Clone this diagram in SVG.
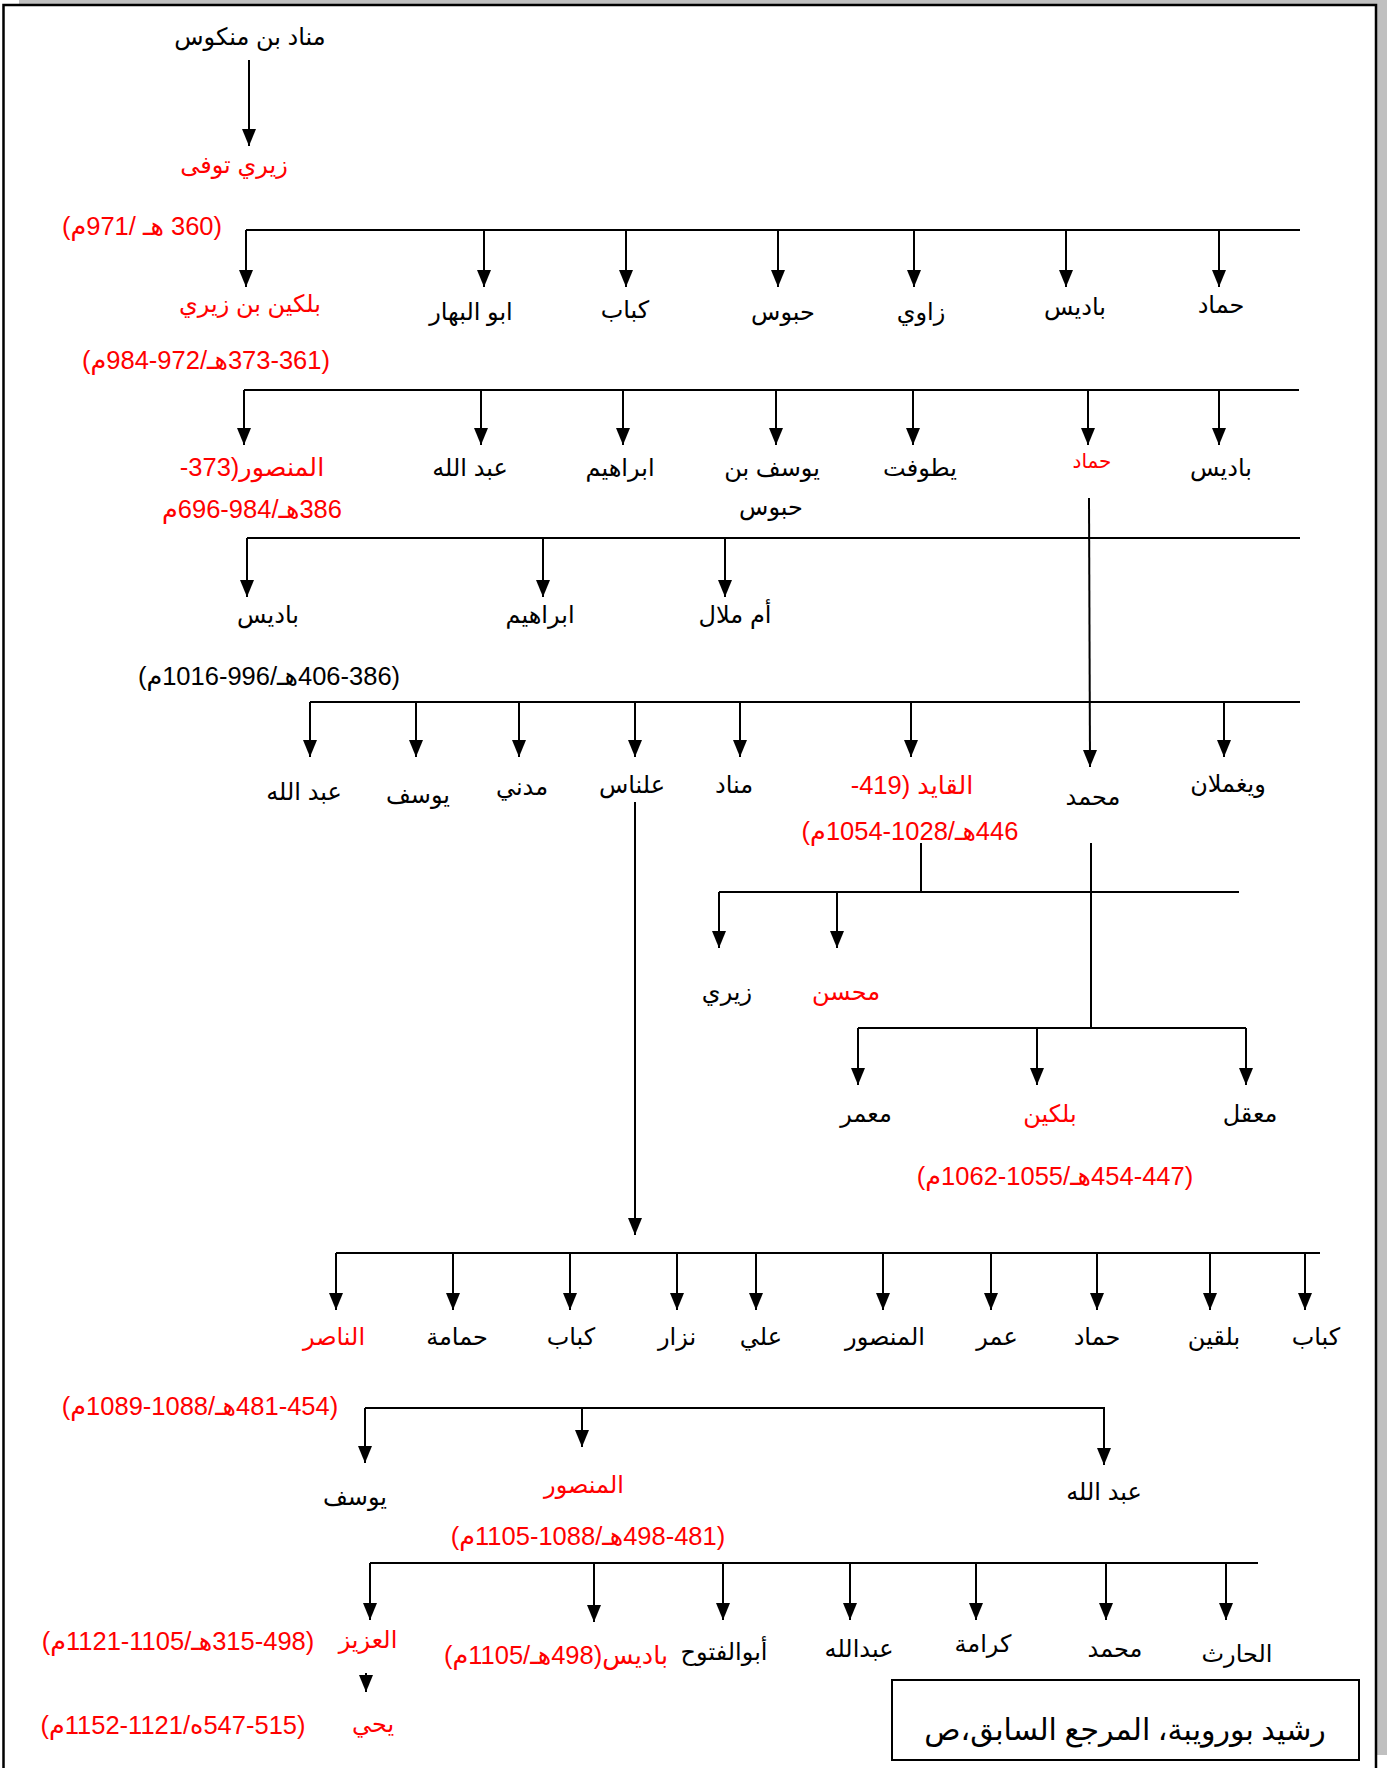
<svg xmlns="http://www.w3.org/2000/svg" width="1387" height="1768" viewBox="0 0 1387 1768">
<style>
text{font-family:"Liberation Sans","DejaVu Sans",sans-serif;direction:rtl;text-anchor:middle;}
.n{font-size:24px;fill:#000;}
.r{font-size:24px;fill:#ff0000;}
.d{font-size:25.5px;fill:#ff0000;}
.db{font-size:25.5px;fill:#000;}
.c line,.c path{stroke:#000;stroke-width:2;fill:none;}
.cite{font-family:"Liberation Serif","DejaVu Sans",serif;font-size:30px;fill:#000;}
</style>
<defs>
<marker id="ah" markerUnits="userSpaceOnUse" markerWidth="14" markerHeight="17" refX="7" refY="17" orient="0" viewBox="0 0 14 17">
<path d="M0,0 L14,0 L7,17 z" fill="#000"/>
</marker>
</defs>
<rect x="0" y="0" width="1387" height="1768" fill="#fff"/>
<rect x="19" y="0" width="1368" height="4" fill="#c0c0c0"/>
<rect x="1377" y="0" width="10" height="1755" fill="#c0c0c0"/>
<path d="M3.5,1768 V5 H1376 V1768" fill="none" stroke="#000" stroke-width="2.5"/>

<g id="connectors" class="c">
<line x1="249" y1="60" x2="249" y2="146" marker-end="url(#ah)"/>
<line x1="246" y1="230" x2="1300" y2="230"/>
<line x1="246" y1="230" x2="246" y2="287" marker-end="url(#ah)"/>
<line x1="484" y1="230" x2="484" y2="287" marker-end="url(#ah)"/>
<line x1="626" y1="230" x2="626" y2="287" marker-end="url(#ah)"/>
<line x1="778" y1="230" x2="778" y2="287" marker-end="url(#ah)"/>
<line x1="914" y1="230" x2="914" y2="287" marker-end="url(#ah)"/>
<line x1="1066" y1="230" x2="1066" y2="287" marker-end="url(#ah)"/>
<line x1="1219" y1="230" x2="1219" y2="287" marker-end="url(#ah)"/>

<line x1="244" y1="390" x2="1299" y2="390"/>
<line x1="244" y1="390" x2="244" y2="445" marker-end="url(#ah)"/>
<line x1="481" y1="390" x2="481" y2="445" marker-end="url(#ah)"/>
<line x1="623" y1="390" x2="623" y2="445" marker-end="url(#ah)"/>
<line x1="776" y1="390" x2="776" y2="445" marker-end="url(#ah)"/>
<line x1="913" y1="390" x2="913" y2="445" marker-end="url(#ah)"/>
<line x1="1088" y1="390" x2="1088" y2="445" marker-end="url(#ah)"/>
<line x1="1219" y1="390" x2="1219" y2="445" marker-end="url(#ah)"/>

<line x1="247" y1="538" x2="1300" y2="538"/>
<line x1="247" y1="538" x2="247" y2="597" marker-end="url(#ah)"/>
<line x1="543" y1="538" x2="543" y2="597" marker-end="url(#ah)"/>
<line x1="725" y1="538" x2="725" y2="597" marker-end="url(#ah)"/>
<line x1="1089" y1="498" x2="1090" y2="767" marker-end="url(#ah)"/>

<line x1="310" y1="702" x2="1300" y2="702"/>
<line x1="310" y1="702" x2="310" y2="757" marker-end="url(#ah)"/>
<line x1="416" y1="702" x2="416" y2="757" marker-end="url(#ah)"/>
<line x1="519" y1="702" x2="519" y2="757" marker-end="url(#ah)"/>
<line x1="635" y1="702" x2="635" y2="757" marker-end="url(#ah)"/>
<line x1="740" y1="702" x2="740" y2="757" marker-end="url(#ah)"/>
<line x1="911" y1="702" x2="911" y2="757" marker-end="url(#ah)"/>
<line x1="1224" y1="702" x2="1224" y2="757" marker-end="url(#ah)"/>

<line x1="635" y1="802" x2="635" y2="1235" marker-end="url(#ah)"/>
<line x1="921" y1="843" x2="921" y2="892"/>
<line x1="719" y1="892" x2="1239" y2="892"/>
<line x1="719" y1="892" x2="719" y2="948" marker-end="url(#ah)"/>
<line x1="837" y1="892" x2="837" y2="948" marker-end="url(#ah)"/>
<line x1="1091" y1="843" x2="1091" y2="1028"/>
<line x1="858" y1="1028" x2="1246" y2="1028"/>
<line x1="858" y1="1028" x2="858" y2="1085" marker-end="url(#ah)"/>
<line x1="1037" y1="1028" x2="1037" y2="1085" marker-end="url(#ah)"/>
<line x1="1246" y1="1028" x2="1246" y2="1085" marker-end="url(#ah)"/>

<line x1="336" y1="1253" x2="1320" y2="1253"/>
<line x1="336" y1="1253" x2="336" y2="1310" marker-end="url(#ah)"/>
<line x1="453" y1="1253" x2="453" y2="1310" marker-end="url(#ah)"/>
<line x1="570" y1="1253" x2="570" y2="1310" marker-end="url(#ah)"/>
<line x1="677" y1="1253" x2="677" y2="1310" marker-end="url(#ah)"/>
<line x1="756" y1="1253" x2="756" y2="1310" marker-end="url(#ah)"/>
<line x1="883" y1="1253" x2="883" y2="1310" marker-end="url(#ah)"/>
<line x1="991" y1="1253" x2="991" y2="1310" marker-end="url(#ah)"/>
<line x1="1097" y1="1253" x2="1097" y2="1310" marker-end="url(#ah)"/>
<line x1="1210" y1="1253" x2="1210" y2="1310" marker-end="url(#ah)"/>
<line x1="1305" y1="1253" x2="1305" y2="1310" marker-end="url(#ah)"/>

<path d="M365,1408 H1104 V1465" marker-end="url(#ah)"/>
<line x1="365" y1="1408" x2="365" y2="1463" marker-end="url(#ah)"/>
<line x1="582" y1="1408" x2="582" y2="1447" marker-end="url(#ah)"/>

<line x1="370" y1="1563" x2="1258" y2="1563"/>
<line x1="370" y1="1563" x2="370" y2="1620" marker-end="url(#ah)"/>
<line x1="594" y1="1563" x2="594" y2="1622" marker-end="url(#ah)"/>
<line x1="723" y1="1563" x2="723" y2="1620" marker-end="url(#ah)"/>
<line x1="850" y1="1563" x2="850" y2="1620" marker-end="url(#ah)"/>
<line x1="976" y1="1563" x2="976" y2="1620" marker-end="url(#ah)"/>
<line x1="1106" y1="1563" x2="1106" y2="1620" marker-end="url(#ah)"/>
<line x1="1226" y1="1563" x2="1226" y2="1620" marker-end="url(#ah)"/>

<line x1="366" y1="1673" x2="366" y2="1692" marker-end="url(#ah)"/>
</g>

<g id="n-menad"><text class="n" x="250" y="45">مناد بن منكوس</text></g>
<g id="n-ziri"><text class="r" x="234" y="173">زيري توفى</text><text class="d" x="142" y="235">(360 هـ /971م)</text></g>

<g id="n-bologhine"><text class="r" x="250" y="312">بلكين بن زيري</text><text class="d" x="206" y="369">&#x61C;(361-373هـ/972-984م)</text></g>
<g id="n-abulbahar"><text class="n" x="471" y="320">ابو البهار</text></g>
<g id="n-kabab1"><text class="n" x="625" y="318">كباب</text></g>
<g id="n-habbous1"><text class="n" x="783" y="320">حبوس</text></g>
<g id="n-zawi"><text class="n" x="921" y="320">زاوي</text></g>
<g id="n-badis1"><text class="n" x="1075" y="315">باديس</text></g>
<g id="n-hammad1"><text class="n" x="1221" y="313">حماد</text></g>

<g id="n-mansour1"><text class="d" x="252" y="476">المنصور(373-</text><text class="d" x="252" y="518">386هـ/984-696م</text></g>
<g id="n-abdallah1"><text class="n" x="470" y="476">عبد الله</text></g>
<g id="n-ibrahim1"><text class="n" x="620" y="476">ابراهيم</text></g>
<g id="n-youssef1"><text class="n" x="772" y="476">يوسف بن</text><text class="n" x="771" y="515">حبوس</text></g>
<g id="n-yatoufat"><text class="n" x="920" y="476">يطوفت</text></g>
<g id="n-hammad2"><text class="r" x="1092" y="468" style="font-size:20px">حماد</text></g>
<g id="n-badis2"><text class="n" x="1221" y="476">باديس</text></g>

<g id="n-badis3"><text class="n" x="268" y="623">باديس</text><text class="db" x="269" y="685">&#x61C;(386-406هـ/996-1016م)</text></g>
<g id="n-ibrahim2"><text class="n" x="540" y="623">ابراهيم</text></g>
<g id="n-ummallal"><text class="n" x="735" y="623">أم ملال</text></g>

<g id="n-abdallah2"><text class="n" x="304" y="800">عبد الله</text></g>
<g id="n-youssef2"><text class="n" x="418" y="803">يوسف</text></g>
<g id="n-madani"><text class="n" x="522" y="795">مدني</text></g>
<g id="n-alennas"><text class="n" x="632" y="793">علناس</text></g>
<g id="n-menad2"><text class="n" x="734" y="793">مناد</text></g>
<g id="n-qaid"><text class="d" x="912" y="794">القايد (419-</text><text class="d" x="910" y="840">446هـ/1028-1054م)</text></g>
<g id="n-mohamed1"><text class="n" x="1093" y="805">محمد</text></g>
<g id="n-wighmlan"><text class="n" x="1228" y="792">ويغملان</text></g>

<g id="n-ziri2"><text class="n" x="727" y="1000">زيري</text></g>
<g id="n-mohsen"><text class="r" x="846" y="1000">محسن</text></g>
<g id="n-maamar"><text class="n" x="866" y="1122">معمر</text></g>
<g id="n-bologhine2"><text class="r" x="1050" y="1122">بلكين</text><text class="d" x="1055" y="1185">&#x61C;(447-454هـ/1055-1062م)</text></g>
<g id="n-maaqil"><text class="n" x="1250" y="1122">معقل</text></g>

<g id="n-nasir"><text class="r" x="334" y="1345">الناصر</text><text class="d" x="200" y="1415">&#x61C;(454-481هـ/1088-1089م)</text></g>
<g id="n-hamama"><text class="n" x="457" y="1345">حمامة</text></g>
<g id="n-kabab2"><text class="n" x="571" y="1345">كباب</text></g>
<g id="n-nizar"><text class="n" x="677" y="1345">نزار</text></g>
<g id="n-ali"><text class="n" x="761" y="1345">علي</text></g>
<g id="n-mansour2"><text class="n" x="885" y="1345">المنصور</text></g>
<g id="n-omar"><text class="n" x="997" y="1345">عمر</text></g>
<g id="n-hammad3"><text class="n" x="1097" y="1345">حماد</text></g>
<g id="n-bolqin"><text class="n" x="1214" y="1345">بلقين</text></g>
<g id="n-kabab3"><text class="n" x="1316" y="1345">كباب</text></g>

<g id="n-youssef3"><text class="n" x="355" y="1505">يوسف</text></g>
<g id="n-mansour3"><text class="r" x="584" y="1493">المنصور</text><text class="d" x="588" y="1545">&#x61C;(481-498هـ/1088-1105م)</text></g>
<g id="n-abdallah3"><text class="n" x="1104" y="1500">عبد الله</text></g>

<g id="n-aziz"><text class="r" x="368" y="1648">العزيز</text><text class="d" x="178" y="1650">&#x61C;(498-315هـ/1105-1121م)</text></g>
<g id="n-badis4"><text class="d" x="556" y="1664">باديس(498هـ/1105م)</text></g>
<g id="n-abulfutuh"><text class="n" x="724" y="1660">أبوالفتوح</text></g>
<g id="n-abdallah4"><text class="n" x="859" y="1657">عبدالله</text></g>
<g id="n-karama"><text class="n" x="983" y="1652">كرامة</text></g>
<g id="n-mohamed2"><text class="n" x="1115" y="1657">محمد</text></g>
<g id="n-harith"><text class="n" x="1237" y="1662">الحارث</text></g>

<g id="n-yahya"><text class="r" x="373" y="1732">يحي</text><text class="d" x="173" y="1734">&#x61C;(515-547ه/1121-1152م)</text></g>

<g id="citation"><rect x="892" y="1680" width="467" height="80" fill="#fff" stroke="#000" stroke-width="2"/><text class="cite" x="1125" y="1740">رشيد بورويبة، المرجع السابق،ص</text></g>
</svg>
